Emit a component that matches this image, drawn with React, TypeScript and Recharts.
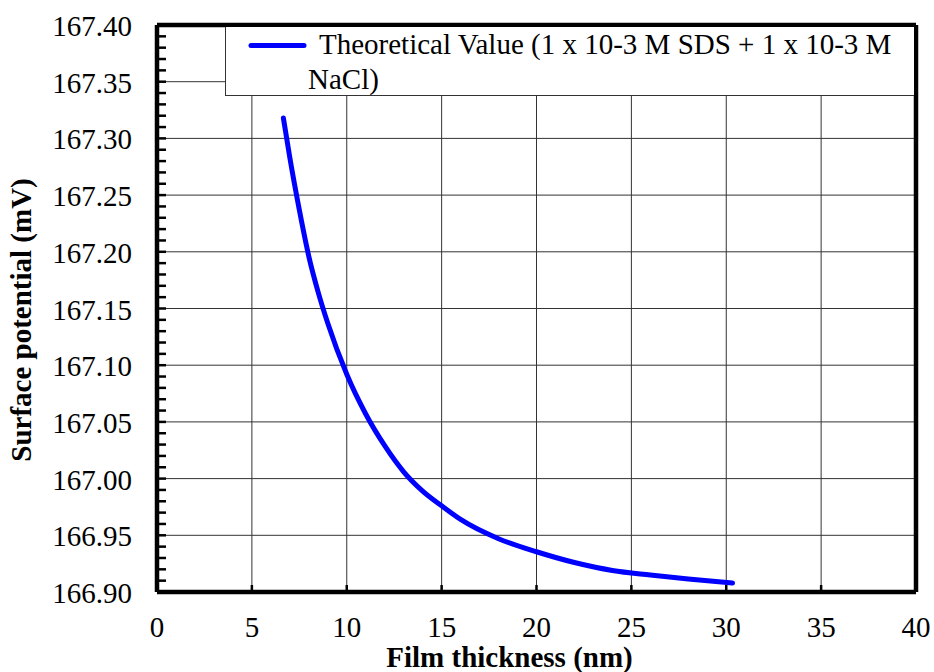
import { LineChart, Line, XAxis, YAxis, CartesianGrid, ReferenceLine, Label } from "recharts";

// film thickness (nm) and computed surface potential (mV)
const thickness = [6.66, 7, 7.5, 8, 8.5, 9, 10, 11, 12, 13, 14, 15, 16, 18, 20, 22, 24, 26, 28, 30.33];
const potential = [
  167.318, 167.283, 167.237, 167.196, 167.164, 167.137, 167.092, 167.057, 167.029, 167.006, 166.989,
  166.976, 166.964, 166.947, 166.9355, 166.926, 166.919, 166.915, 166.9115, 166.908,
];

const xTicks = [0, 5, 10, 15, 20, 25, 30, 35, 40];
const yMajor = [166.9, 166.95, 167.0, 167.05, 167.1, 167.15, 167.2, 167.25, 167.3, 167.35, 167.4];

// minor ticks every 0.01 mV between the labelled ones
const yMinor: number[] = [];
for (let i = 0; i < yMajor.length - 1; i++) {
  for (let k = 0; k < 5; k++) {
    yMinor.push(Number((yMajor[i] + k * 0.01).toFixed(2)));
  }
}
yMinor.push(yMajor[yMajor.length - 1]);

const seriesName = "Theoretical Value (1 x 10-3 M SDS + 1 x 10-3 M NaCl)";

const FONT = '"Liberation Serif", "Times New Roman", serif';
const BLUE = "#0000ff";
const textStyle = { fontFamily: FONT, fontSize: 29 };

const YTick = ({ x, y, payload }: any) => {
  const v = payload.value as number;
  const major = Math.round(v * 100) % 5 === 0;
  return (
    <g>
      <line x1={x} x2={x + 9} y1={y} y2={y} stroke="#000" strokeWidth={2.5} />
      {major && (
        <text x={x - 25} y={y} dy={11} textAnchor="end" fill="#000" style={textStyle}>
          {v.toFixed(2)}
        </text>
      )}
    </g>
  );
};

const XTick = ({ x, y, payload }: any) => (
  <g>
    <line x1={x} x2={x} y1={y} y2={y - 7} stroke="#000" strokeWidth={2.5} />
    <text x={x} y={y} dy={45} textAnchor="middle" fill="#000" style={textStyle}>
      {payload.value}
    </text>
  </g>
);

const XTitle = ({ viewBox }: any) => (
  <text
    x={viewBox.x + viewBox.width / 2 - 27}
    y={viewBox.y + 75}
    textAnchor="middle"
    fill="#000"
    style={{ ...textStyle, fontWeight: "bold" }}
  >
    Film thickness (nm)
  </text>
);

const YTitle = ({ viewBox }: any) => (
  <text
    transform={`translate(${viewBox.x + 31}, ${viewBox.y + 295}) rotate(-90)`}
    textAnchor="middle"
    fill="#000"
    style={{ ...textStyle, fontWeight: "bold" }}
  >
    Surface potential (mV)
  </text>
);

const App = () => {
  const data = thickness.map((t, i) => ({ t, v: potential[i] }));

  return (
    <div style={{ position: "absolute", left: 0, top: 0, width: 934, height: 672, background: "#fff" }}>
      <LineChart width={934} height={672} data={data} margin={{ top: 25, right: 18, left: 0, bottom: 0 }}>
        <CartesianGrid stroke="#333" strokeWidth={1} horizontalValues={yMajor} />
        <XAxis
          dataKey="t"
          type="number"
          domain={[0, 40]}
          ticks={xTicks}
          interval={0}
          height={80}
          tickSize={0}
          tickMargin={0}
          tickLine={false}
          axisLine={{ stroke: "#000", strokeWidth: 4.5 }}
          tick={<XTick />}
          allowDataOverflow
        >
          <Label content={<XTitle />} />
        </XAxis>
        <YAxis
          type="number"
          domain={[166.9, 167.4]}
          ticks={yMinor}
          interval={0}
          width={157}
          tickSize={0}
          tickMargin={0}
          tickLine={false}
          axisLine={{ stroke: "#000", strokeWidth: 4.5 }}
          tick={<YTick />}
          allowDataOverflow
        >
          <Label content={<YTitle />} />
        </YAxis>
        {/* top and right frame */}
        <ReferenceLine y={167.4} stroke="#000" strokeWidth={4.5} />
        <ReferenceLine x={40} stroke="#000" strokeWidth={4.5} />
        <Line
          dataKey="v"
          name={seriesName}
          type="monotone"
          stroke={BLUE}
          strokeWidth={5}
          strokeLinecap="round"
          dot={false}
          isAnimationActive={false}
        />
      </LineChart>
      {/* legend box */}
      <div
        style={{
          position: "absolute",
          left: 225,
          top: 27,
          width: 689,
          height: 69,
          background: "#fff",
          borderLeft: "1px solid #333",
          borderBottom: "1px solid #333",
          boxSizing: "border-box",
        }}
      >
        <svg width={70} height={40} style={{ position: "absolute", left: 20, top: 0 }}>
          <line x1={5} x2={58} y1={18.5} y2={18.5} stroke={BLUE} strokeWidth={5} strokeLinecap="round" />
        </svg>
        <div
          style={{
            position: "absolute",
            left: 82,
            top: 0,
            width: 598,
            fontFamily: FONT,
            fontSize: 29,
            lineHeight: "35px",
            color: "#000",
            textIndent: 11,
          }}
        >
          {seriesName}
        </div>
      </div>
    </div>
  );
};

export default App;
